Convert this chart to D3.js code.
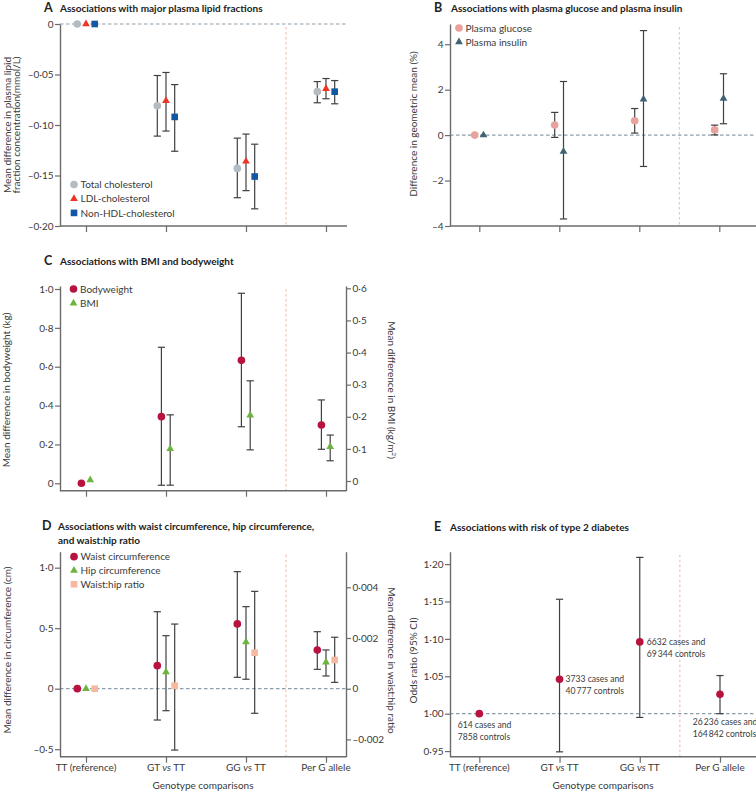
<!DOCTYPE html>
<html>
<head>
<meta charset="utf-8">
<script src="https://cdn.jsdelivr.net/npm/d3@7"></script>
<style>
  html, body { margin: 0; padding: 0; background: #fff; }
  svg { display: block; font-family: Lato, "Open Sans", sans-serif; }
</style>
</head>
<body>
<svg id="chart" width="756" height="793"></svg>
<script>
// ---------------- DATA ----------------
const categories = ["TT (reference)", "GT vs TT", "GG vs TT", "Per G allele"];

// Panel A: lipid fractions (mmol/L)
const lipidNames = ["Total cholesterol", "LDL-cholesterol", "Non-HDL-cholesterol"];
const totalChol     = [0, -0.081, -0.143, -0.067];
const totalCholLow  = [null, -0.111, -0.172, -0.078];
const totalCholHigh = [null, -0.051, -0.113, -0.057];
const ldlChol       = [0, -0.076, -0.136, -0.064];
const ldlCholLow    = [null, -0.106, -0.165, -0.074];
const ldlCholHigh   = [null, -0.048, -0.109, -0.054];
const nonHdlChol    = [0, -0.092, -0.151, -0.067];
const nonHdlLow     = [null, -0.126, -0.183, -0.079];
const nonHdlHigh    = [null, -0.060, -0.119, -0.056];
const lipidTicks    = [0, -0.05, -0.10, -0.15, -0.20];

// Panel B: glucose & insulin (% difference in geometric mean)
const glycNames   = ["Plasma glucose", "Plasma insulin"];
const glucose     = [0, 0.44, 0.63, 0.23];
const glucoseLow  = [null, -0.10, 0.09, 0.01];
const glucoseHigh = [null, 1.00, 1.17, 0.44];
const insulin     = [0, -0.72, 1.58, 1.61];
const insulinLow  = [null, -3.69, -1.38, 0.50];
const insulinHigh = [null, 2.36, 4.60, 2.70];
const glycTicks   = [4, 2, 0, -2, -4];

// Panel C: bodyweight (kg, left) & BMI (kg/m2, right)
const bodyNames   = ["Bodyweight", "BMI"];
const bodyweight     = [0, 0.343, 0.633, 0.300];
const bodyweightLow  = [null, -0.010, 0.291, 0.175];
const bodyweightHigh = [null, 0.700, 0.978, 0.429];
const bmi     = [0.003, 0.100, 0.205, 0.107];
const bmiLow  = [null, -0.013, 0.097, 0.063];
const bmiHigh = [null, 0.206, 0.312, 0.143];
const bodyweightTicks = [0, 0.2, 0.4, 0.6, 0.8, 1.0];
const bmiTicks = [0, 0.1, 0.2, 0.3, 0.4, 0.5, 0.6];

// Panel D: waist, hip (cm, left) & waist:hip ratio (right)
const anthroNames = ["Waist circumference", "Hip circumference", "Waist:hip ratio"];
const waist     = [0, 0.190, 0.535, 0.320];
const waistLow  = [null, -0.259, 0.094, 0.160];
const waistHigh = [null, 0.636, 0.967, 0.471];
const hip     = [0, 0.138, 0.386, 0.218];
const hipLow  = [null, -0.182, 0.078, 0.105];
const hipHigh = [null, 0.438, 0.678, 0.320];
const whr     = [0, 0.00012, 0.00142, 0.00113];
const whrLow  = [null, -0.00242, -0.00097, 0.00025];
const whrHigh = [null, 0.00255, 0.00384, 0.00203];
const circTicks = [1.0, 0.5, 0, -0.5];
const whrTicks  = [0.004, 0.002, 0, -0.002];

// Panel E: type 2 diabetes odds ratios
const diabetesOR     = [1.000, 1.046, 1.096, 1.026];
const diabetesORLow  = [null, 0.949, 0.995, 1.000];
const diabetesORHigh = [null, 1.153, 1.209, 1.051];
const diabetesCases    = ["614", "3733", "6632", "26\u2009236"];
const diabetesControls = ["7858", "40\u2009777", "69\u2009344", "164\u2009842"];
const orTicks = [1.20, 1.15, 1.10, 1.05, 1.00, 0.95];

// ---------------- STYLE ----------------
const AXIS = "#6b6b6b", TXT = "#3a3a3a", BAR = "#404040";
const ZERO = "#8d9dab", SEP = "#f3b5a5";
const C_GRAY = "#b5bcc1", C_RED = "#ee3524", C_BLUE = "#1257a3";
const C_PINK = "#e8a29b", C_SLATE = "#3f6374";
const C_CRIMSON = "#b8123f", C_GREEN = "#6cb43f", C_PEACH = "#f8b79f";

const svg = d3.select("#chart");
svg.append("rect").attr("width", 756).attr("height", 793).attr("fill", "#fff");

function fmt(d, dec) {
  if (Math.abs(d) < 1e-12) return "0";
  return (d < 0 ? "\u2013" : "") + Math.abs(d).toFixed(dec).replace(".", "\u00b7");
}

function sym(type, size) {
  const t = { circle: d3.symbolCircle, triangle: d3.symbolTriangle, square: d3.symbolSquare }[type];
  const s = { circle: 46, triangle: 26, square: 44 }[type];
  return d3.symbol().type(t).size(size || s)();
}

function title(letter, lines, xL, xT, y) {
  svg.append("text").attr("x", xL).attr("y", y).attr("font-size", 12.5).attr("font-weight", 700)
    .attr("fill", "#222").text(letter);
  lines.forEach((l, i) => {
    svg.append("text").attr("x", xT).attr("y", y + i * 14).attr("font-size", 10).attr("font-weight", 700)
      .attr("fill", "#222").text(l);
  });
}

function vLabel(lines, x, y, rot) {
  lines.forEach((l, i) => {
    svg.append("text").attr("transform", `translate(${x + i * 9.5},${y}) rotate(${rot})`)
      .attr("text-anchor", "middle").attr("font-size", 10).attr("fill", TXT).text(l);
  });
}

function legend(items, x, y, dy) {
  items.forEach((it, i) => {
    svg.append("path").attr("d", sym(it.shape)).attr("fill", it.color)
      .attr("transform", `translate(${x},${y + i * dy})`);
    svg.append("text").attr("x", x + 6.5).attr("y", y + i * dy + 3.6)
      .attr("font-size", 10).attr("fill", TXT).text(it.name);
  });
}

// generic panel
function panel(cfg) {
  const g = svg.append("g");
  const x = d3.scalePoint().domain(categories).range(cfg.xr);
  const y = d3.scaleLinear().domain(cfg.yDomain).range([cfg.bottom, cfg.top]);

  // separator between genotype comparisons and per-allele
  const sepX = (x(categories[2]) + x(categories[3])) / 2;
  g.append("line").attr("x1", sepX).attr("x2", sepX).attr("y1", cfg.top + 3).attr("y2", cfg.bottom)
    .attr("stroke", SEP).attr("stroke-width", 1).attr("stroke-dasharray", "2.5,2.5");

  // reference line
  if (cfg.refVal !== null) {
    g.append("line").attr("x1", cfg.x0).attr("x2", cfg.x1).attr("y1", y(cfg.refVal)).attr("y2", y(cfg.refVal))
      .attr("stroke", ZERO).attr("stroke-width", 1.2).attr("stroke-dasharray", "3.5,2.5");
  }

  // left y axis
  const ya = g.append("g").attr("transform", `translate(${cfg.x0},0)`)
    .call(d3.axisLeft(y).tickValues(cfg.yTicks).tickFormat(d => fmt(d, cfg.dec)).tickSize(5).tickSizeOuter(0));
  ya.select(".domain").attr("stroke", AXIS).attr("stroke-width", 1.4);
  ya.selectAll(".tick line").attr("stroke", AXIS).attr("stroke-width", 1.2);
  ya.selectAll(".tick text").attr("fill", TXT).attr("font-size", 10).attr("font-family", "Lato, sans-serif").attr("x", -6.5);

  // right axis
  let y2 = null;
  if (cfg.y2Domain) {
    y2 = d3.scaleLinear().domain(cfg.y2Domain).range([cfg.bottom, cfg.top]);
    const ra = g.append("g").attr("transform", `translate(${cfg.x1},0)`)
      .call(d3.axisRight(y2).tickValues(cfg.y2Ticks).tickFormat(d => fmt(d, cfg.dec2)).tickSize(5).tickSizeOuter(0));
    ra.select(".domain").attr("stroke", AXIS).attr("stroke-width", 1.4);
    ra.selectAll(".tick line").attr("stroke", AXIS).attr("stroke-width", 1.2);
    ra.selectAll(".tick text").attr("fill", TXT).attr("font-size", 10).attr("font-family", "Lato, sans-serif").attr("x", 6.5);
  }

  // x axis
  const xa = g.append("g").attr("transform", `translate(0,${cfg.bottom})`)
    .call(d3.axisBottom(x).tickSize(6).tickSizeOuter(0).tickFormat(""));
  xa.select(".domain").remove();
  xa.selectAll(".tick line").attr("stroke", AXIS).attr("stroke-width", 1.2);
  g.append("line").attr("x1", cfg.x0).attr("x2", cfg.x1).attr("y1", cfg.bottom).attr("y2", cfg.bottom)
    .attr("stroke", AXIS).attr("stroke-width", 1.4);

  if (cfg.xLabels) {
    categories.forEach(c => {
      const t = g.append("text").attr("x", x(c)).attr("y", cfg.bottom + 14.5).attr("text-anchor", "middle")
        .attr("font-size", 10).attr("fill", TXT);
      const parts = c.split(" vs ");
      if (parts.length === 2) {
        t.append("tspan").text(parts[0] + " ");
        t.append("tspan").attr("font-style", "italic").text("vs");
        t.append("tspan").text(" " + parts[1]);
      } else t.text(c);
    });
    g.append("text").attr("x", (cfg.x0 + cfg.x1) / 2).attr("y", cfg.bottom + 32.5).attr("text-anchor", "middle")
      .attr("font-size", 10).attr("fill", TXT).text("Genotype comparisons");
  }

  const n = cfg.series.length;
  cfg.series.forEach((s, si) => {
    const sc = s.right ? y2 : y;
    const off = n === 1 ? 0 : cfg.offsets[si];
    categories.forEach((c, i) => {
      const cx = x(c) + off;
      if (s.lo[i] !== null) {
        g.append("line").attr("x1", cx).attr("x2", cx).attr("y1", sc(s.lo[i])).attr("y2", sc(s.hi[i]))
          .attr("stroke", BAR).attr("stroke-width", 1.2);
        [s.lo[i], s.hi[i]].forEach(v => {
          g.append("line").attr("x1", cx - 3.6).attr("x2", cx + 3.6).attr("y1", sc(v)).attr("y2", sc(v))
            .attr("stroke", BAR).attr("stroke-width", 1.2);
        });
      }
    });
    categories.forEach((c, i) => {
      const cx = x(c) + off;
      g.append("path").attr("d", sym(s.shape)).attr("fill", s.color)
        .attr("transform", `translate(${cx},${sc(s.v[i])})`);
    });
  });
  return { x, y, y2 };
}

// ---------------- PANEL A ----------------
title("A", ["Associations with major plasma lipid fractions"], 44, 60, 12);
panel({
  x0: 60, x1: 347, xr: [86, 326], top: 24, bottom: 226,
  yDomain: [-0.20, 0], yTicks: lipidTicks, dec: 2, refVal: 0,
  offsets: [-8.7, 0, 8.7],
  series: [
    { v: totalChol, lo: totalCholLow, hi: totalCholHigh, shape: "circle", color: C_GRAY },
    { v: ldlChol, lo: ldlCholLow, hi: ldlCholHigh, shape: "triangle", color: C_RED },
    { v: nonHdlChol, lo: nonHdlLow, hi: nonHdlHigh, shape: "square", color: C_BLUE }
  ]
});
legend([
  { name: lipidNames[0], shape: "circle", color: C_GRAY },
  { name: lipidNames[1], shape: "triangle", color: C_RED },
  { name: lipidNames[2], shape: "square", color: C_BLUE }
], 74, 184.5, 14.2);
vLabel(["Mean difference in plasma lipid", "fraction concentration(mmol/L)"], 10.5, 125, -90);

// ---------------- PANEL B ----------------
title("B", ["Associations with plasma glucose and plasma insulin"], 434, 451, 12);
panel({
  x0: 450, x1: 756, xr: [479.3, 719.3], top: 24, bottom: 226,
  yDomain: [-4, 4.89], yTicks: glycTicks, dec: 0, refVal: 0,
  offsets: [-4.6, 4.2],
  series: [
    { v: glucose, lo: glucoseLow, hi: glucoseHigh, shape: "circle", color: C_PINK },
    { v: insulin, lo: insulinLow, hi: insulinHigh, shape: "triangle", color: C_SLATE }
  ]
});
legend([
  { name: glycNames[0], shape: "circle", color: C_PINK },
  { name: glycNames[1], shape: "triangle", color: C_SLATE }
], 459, 28, 14);
vLabel(["Difference in geometric mean (%)"], 416.5, 124, -90);

// ---------------- PANEL C ----------------
title("C", ["Associations with BMI and bodyweight"], 44, 60, 265);
panel({
  x0: 60, x1: 346, xr: [86, 326], top: 286, bottom: 490.7,
  yDomain: [-0.0381, 1.0154], yTicks: bodyweightTicks, dec: 1, refVal: null,
  y2Domain: [-0.0302, 0.6072], y2Ticks: bmiTicks, dec2: 1,
  offsets: [-4.6, 4.2],
  series: [
    { v: bodyweight, lo: bodyweightLow, hi: bodyweightHigh, shape: "circle", color: C_CRIMSON },
    { v: bmi, lo: bmiLow, hi: bmiHigh, shape: "triangle", color: C_GREEN, right: true }
  ]
});
legend([
  { name: bodyNames[0], shape: "circle", color: C_CRIMSON },
  { name: bodyNames[1], shape: "triangle", color: C_GREEN }
], 73.5, 289, 14.3);
vLabel(["Mean difference in bodyweight (kg)"], 10, 390, -90);
// right label with superscript
(function () {
  const t = svg.append("text").attr("transform", "translate(388,390) rotate(90)")
    .attr("text-anchor", "middle").attr("font-size", 10).attr("fill", TXT);
  t.append("tspan").text("Mean difference in BMI (kg/m");
  t.append("tspan").attr("font-size", 6.5).attr("dy", -4).text("2");
  t.append("tspan").attr("dy", 4).text(")");
})();

// ---------------- PANEL D ----------------
title("D", ["Associations with waist circumference, hip circumference,", "and waist:hip ratio"], 42, 58, 529.5);
panel({
  x0: 60, x1: 346, xr: [86, 326], top: 551.7, bottom: 756.7,
  yDomain: [-0.562, 1.132], yTicks: circTicks, dec: 1, refVal: 0,
  y2Domain: [-0.002682, 0.005404], y2Ticks: whrTicks, dec2: 3,
  offsets: [-8.7, 0, 8.7], xLabels: true,
  series: [
    { v: waist, lo: waistLow, hi: waistHigh, shape: "circle", color: C_CRIMSON },
    { v: hip, lo: hipLow, hi: hipHigh, shape: "triangle", color: C_GREEN },
    { v: whr, lo: whrLow, hi: whrHigh, shape: "square", color: C_PEACH, right: true }
  ]
});
legend([
  { name: anthroNames[0], shape: "circle", color: C_CRIMSON },
  { name: anthroNames[1], shape: "triangle", color: C_GREEN },
  { name: anthroNames[2], shape: "square", color: C_PEACH }
], 74, 556.7, 13.8);
vLabel(["Mean difference in circumference (cm)"], 10.5, 650, -90);
vLabel(["Mean difference in waist:hip ratio"], 388, 660.5, 90);

// ---------------- PANEL E ----------------
title("E", ["Associations with risk of type 2 diabetes"], 434, 450, 531);
const pe = panel({
  x0: 450, x1: 756, xr: [479.3, 720], top: 551.7, bottom: 756.7,
  yDomain: [0.9425, 1.2166], yTicks: orTicks, dec: 2, refVal: 1.0,
  offsets: [0], xLabels: true,
  series: [
    { v: diabetesOR, lo: diabetesORLow, hi: diabetesORHigh, shape: "circle", color: C_CRIMSON }
  ]
});
vLabel(["Odds ratio (95% CI)"], 416.5, 660.5, -90);
// annotations
const annPos = [
  { dx: -21.6, dy: 14.3 },
  { dx: 6, dy: 3.2 },
  { dx: 7, dy: 3.3 },
  { dx: -27.3, dy: 31 }
];
categories.forEach((c, i) => {
  const ax = pe.x(c) + annPos[i].dx;
  const ay = (i === 3 ? pe.y(diabetesORLow[i]) : pe.y(diabetesOR[i])) + (i === 3 ? 11.5 : annPos[i].dy);
  const t = svg.append("text").attr("font-size", 8.6).attr("fill", TXT);
  t.append("tspan").attr("x", ax).attr("y", ay).text(diabetesCases[i] + " cases and");
  t.append("tspan").attr("x", ax).attr("y", ay + 12).text(diabetesControls[i] + " controls");
});
</script>
</body>
</html>
